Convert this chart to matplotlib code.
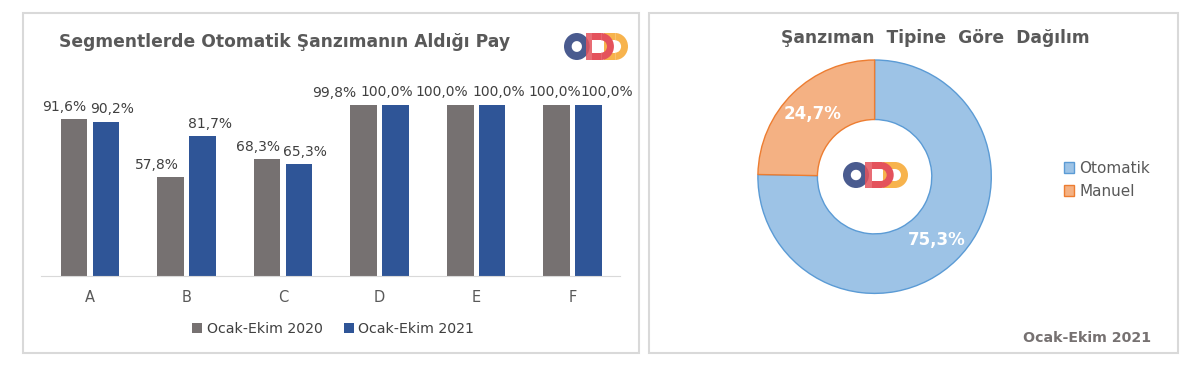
import numpy as np
import matplotlib.pyplot as plt
from matplotlib.patches import Rectangle, Wedge

# sol grafik verileri
kategoriler = ['A', 'B', 'C', 'D', 'E', 'F']
pay_2020 = [91.6, 57.8, 68.3, 99.8, 100.0, 100.0]
pay_2021 = [90.2, 81.7, 65.3, 100.0, 100.0, 100.0]
seri_adlari = ['Ocak-Ekim 2020', 'Ocak-Ekim 2021']

# sag grafik verileri
tipler = ['Otomatik', 'Manuel']
tip_pay = [75.3, 24.7]

# etiketlerin yatay kaydirmasi (piksel), Excel'deki gibi ust uste binmesin
kayma_2020 = [-10, -14, -9.5, -30, -18, -2]
kayma_2021 = [6, 7.5, 5.5, -8.5, 7, 18]

W, H = 1200, 381

def fbox(x0, y0, x1, y1):  # piksel -> figure koordinat
    return [x0/W, 1-y1/H, (x1-x0)/W, (y1-y0)/H]

def yuzde(v):
    return f"{v:.1f}%".replace('.', ',')

def logo(x0, y0, x1, y1):  # ODD logosu, kaba cizim
    lax = fig.add_axes(fbox(x0, y0, x1, y1))
    lax.set_xlim(0, 2.5)
    lax.set_ylim(0, 1)
    lax.axis('off')
    sari = '#F7B34D'
    kirmizi = '#E4525C'
    lax.add_patch(Rectangle((1.55, 0), 0.23, 1, color=sari, lw=0))
    lax.add_patch(Rectangle((1.55, 0.73), 0.45, 0.27, color=sari, lw=0))
    lax.add_patch(Rectangle((1.55, 0), 0.45, 0.27, color=sari, lw=0))
    lax.add_patch(Wedge((2.0, 0.5), 0.5, -90, 90, width=0.27, color=sari, lw=0))
    lax.add_patch(Wedge((0.5, 0.5), 0.5, 0, 360, width=0.3, color='#4A5B8F', lw=0))
    lax.add_patch(Rectangle((0.85, 0), 0.25, 1, color=kirmizi, lw=0, alpha=0.85))
    lax.add_patch(Rectangle((1.1, 0.73), 0.35, 0.27, color=kirmizi, lw=0))
    lax.add_patch(Rectangle((1.1, 0), 0.35, 0.27, color=kirmizi, lw=0))
    lax.add_patch(Wedge((1.45, 0.5), 0.5, -90, 90, width=0.27, color=kirmizi, lw=0))

fig = plt.figure(figsize=(12, 3.81), dpi=100)

# panel cerceveleri
for b in [(23, 13, 639, 353), (649, 13, 1178, 353)]:
    fig.patches.append(Rectangle((b[0]/W, 1-b[3]/H), (b[2]-b[0])/W, (b[3]-b[1])/H,
                                 transform=fig.transFigure, fill=False,
                                 edgecolor='#D9D9D9', lw=1.5))

# sol: cubuk grafik
ax = fig.add_axes(fbox(41, 60, 620, 276))
x = np.arange(len(kategoriler))
w = 0.275
b1 = ax.bar(x-0.165, pay_2020, w, color='#767171', label=seri_adlari[0])
b2 = ax.bar(x+0.165, pay_2021, w, color='#2F5597', label=seri_adlari[1])
t1 = ax.bar_label(b1, labels=[yuzde(v) for v in pay_2020], padding=4, fontsize=10, color='#404040')
t2 = ax.bar_label(b2, labels=[yuzde(v) for v in pay_2021], padding=4, fontsize=10, color='#404040')
for t, k in zip(list(t1) + list(t2), kayma_2020 + kayma_2021):
    t.xyann = (k*0.72, 4)
ax.set_xlim(-0.508, 5.49)
ax.set_ylim(0, 126.3)
ax.set_xticks(x, kategoriler)
ax.tick_params(axis='x', length=0, pad=10, labelsize=10.5, labelcolor='#595959')
ax.set_yticks([])
for s in ['top', 'right', 'left']:
    ax.spines[s].set_visible(False)
ax.spines['bottom'].set_color('#D9D9D9')
ax.patch.set_visible(False)
ax.legend(loc='center', bbox_to_anchor=(333/W, 1-329/H), bbox_transform=fig.transFigure,
          ncol=2, frameon=False, handlelength=0.7, handleheight=0.7, handletextpad=0.3,
          columnspacing=1.5, fontsize=10.2, labelcolor='#404040')

fig.text(284.5/W, 1-42/H, 'Segmentlerde Otomatik Şanzımanın Aldığı Pay', ha='center', va='center',
         fontsize=12.3, fontweight='bold', color='#595959')
logo(564, 33, 628, 60)

# sag: halka grafik
r = 116.7*1.05
cx, cy = 874.6, 176.7
ax2 = fig.add_axes(fbox(cx-r, cy-r, cx+r, cy+r))
wedges, texts, autotexts = ax2.pie(tip_pay, colors=['#9DC3E6', '#F4B183'], startangle=90,
                                   counterclock=False, radius=1,
                                   wedgeprops=dict(width=0.51, linewidth=1),
                                   autopct=lambda p: yuzde(p), pctdistance=0.755,
                                   textprops=dict(color='white', fontsize=12, fontweight='bold'))
wedges[0].set_edgecolor('#5B9BD5')
wedges[1].set_edgecolor('#ED7D31')
ax2.set_xlim(-1.05, 1.05)
ax2.set_ylim(-1.05, 1.05)

fig.legend(wedges, tipler, loc='center left', bbox_to_anchor=(1050/W, 1-180/H),
           frameon=False, handlelength=0.7, handleheight=0.7, handletextpad=0.3,
           labelspacing=0.5, fontsize=11, labelcolor='#595959')

fig.text(935/W, 1-38/H, 'Şanzıman  Tipine  Göre  Dağılım', ha='center', va='center',
         fontsize=12.3, fontweight='bold', color='#595959')
fig.text(1087/W, 1-338/H, 'Ocak-Ekim 2021', ha='center', va='center',
         fontsize=10.2, fontweight='bold', color='#767171')
logo(843, 162, 908, 188)

fig.savefig('out.png', dpi=100)
